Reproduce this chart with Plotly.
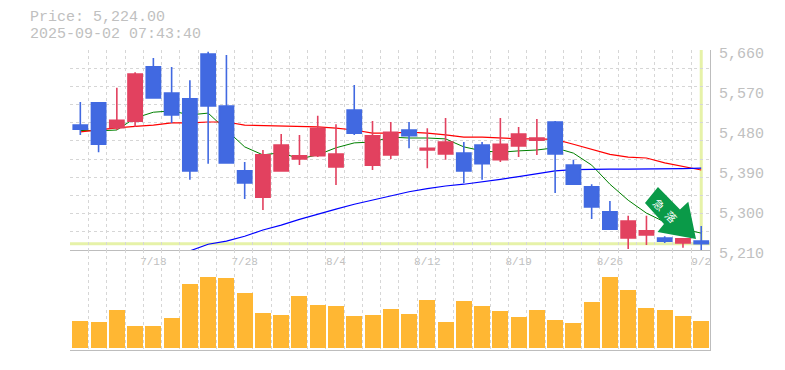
import numpy as np
import plotly.graph_objects as go
from plotly.subplots import make_subplots

dates = ["7/14","7/15","7/16","7/17","7/18","7/22","7/23","7/24","7/25","7/28","7/29","7/30","7/31","8/1","8/4",
         "8/5","8/6","8/7","8/8","8/12","8/13","8/14","8/15","8/18","8/19","8/20","8/21","8/22","8/25","8/26",
         "8/27","8/28","8/29","9/1","9/2"]
shown_dates = ["7/18","7/28","8/4","8/12","8/19","8/26","9/2"]
open_ = [5491,5541,5485,5500,5622,5563,5550,5651,5534,5388,5329,5388,5415,5422,5397,5525,5401,5424,5480,5435,5426,5428,5446,5413,5444,5457,5498,5401,5352,5296,5237,5244,5237,5226,5230]
close = [5482,5448,5502,5606,5552,5514,5388,5534,5406,5361,5424,5446,5422,5484,5426,5473,5467,5475,5467,5439,5453,5388,5404,5448,5471,5462,5426,5358,5307,5257,5275,5253,5230,5235,5224]
high = [5543,5543,5575,5610,5642,5622,5592,5656,5649,5408,5435,5471,5469,5512,5493,5581,5500,5498,5498,5484,5507,5453,5453,5507,5487,5505,5500,5413,5358,5320,5287,5287,5241,5235,5264]
low = [5469,5430,5480,5487,5552,5496,5368,5404,5406,5325,5300,5388,5401,5419,5356,5469,5390,5415,5439,5394,5413,5361,5368,5408,5419,5424,5338,5358,5280,5255,5212,5221,5226,5215,5210]
ma_short = [5479,5478,5480,5507,5520,5523,5514,5518,5480,5442,5424,5429,5415,5424,5440,5451,5453,5464,5462,5462,5460,5442,5433,5430,5433,5435,5440,5428,5401,5358,5322,5293,5273,5257,5248]
ma_mid = [5476,5481,5485,5488,5491,5496,5496,5498,5498,5491,5490,5488,5487,5487,5484,5480,5473,5473,5475,5473,5469,5464,5464,5462,5460,5460,5459,5448,5437,5425,5419,5417,5406,5398,5390]
ma_long = [None,None,None,None,None,None,5208,5223,5230,5241,5255,5266,5279,5291,5302,5313,5322,5332,5341,5348,5354,5358,5363,5369,5375,5382,5388,5391,5392,5392,5392,5392,5393,5393,5394]
volume = [27,26,38,22,22,30,64,71,70,55,35,33,52,43,42,32,33,39,34,48,26,47,42,37,31,38,28,25,46,71,58,40,38,32,27]
price_ticks = [5660,5570,5480,5390,5300,5210]
last_price = 5224
header = ["Price: 5,224.00","2025-09-02 07:43:40"]
badge = "急落"

W,H = 785,370
idx = list(range(len(dates)))
xr = [-0.565,34.48]
RED,BLUE = "#e2415f","#4169e1"
GRID = "#d6d6d6"; BORDER="#bdbdbd"; TXT="#c0c0c0"; LIME="#e6f2a8"
MONO="Liberation Mono"

fig = make_subplots(rows=2,cols=1,shared_xaxes=False,vertical_spacing=0,row_heights=[2,1])
for name,vals,c,w in [("short",ma_short,"#008000",1),("mid",ma_mid,"#ff0000",1.2),("long",ma_long,"#0000ff",1.2)]:
    fig.add_trace(go.Scatter(x=idx,y=vals,mode="lines",name=name,line=dict(color=c,width=w)),row=1,col=1)
fig.add_trace(go.Candlestick(x=idx,open=open_,high=high,low=low,close=close,yaxis="y3",xaxis="x",
    whiskerwidth=0,
    increasing=dict(line=dict(color=RED,width=1.6),fillcolor=RED),
    decreasing=dict(line=dict(color=BLUE,width=1.6),fillcolor=BLUE)))
fig.add_trace(go.Bar(x=idx,y=volume,marker=dict(color="#ffb733",line_width=0),width=16/18.23),row=2,col=1)

tick_idx=[dates.index(d) for d in shown_dates]
gridx=dict(showgrid=True,griddash="3px,3px",gridcolor=GRID,gridwidth=1,tick0=-0.55,dtick=1)
fig.update_layout(width=W,height=H,autosize=False,margin=dict(l=70,r=75,t=50,b=20,autoexpand=False),
    paper_bgcolor="white",plot_bgcolor="white",showlegend=False,bargap=0,boxgap=0.22,boxgroupgap=0,
    xaxis=dict(domain=[0,1],range=xr,tickmode="array",tickvals=tick_idx,ticktext=shown_dates,showgrid=False,automargin=False,
        ticks="",ticklabelstandoff=1,tickfont=dict(family=MONO,size=11,color=TXT),showline=True,linecolor=BORDER,linewidth=1,
        minor=gridx,rangeslider=dict(visible=False),zeroline=False),
    xaxis2=dict(domain=[0,1],range=xr,showticklabels=False,ticks="",showgrid=False,minor=gridx,showline=True,linecolor=BORDER,linewidth=1,zeroline=False,automargin=False),
    yaxis=dict(domain=[1/3,1],range=[5210,5660],side="right",tickmode="array",tickvals=price_ticks,automargin=False,
        ticktext=[f"{v:,}" for v in price_ticks],ticks="",ticklabelstandoff=5,ticklabelshift=3,
        tickfont=dict(family=MONO,size=15,color=TXT),showgrid=False,zeroline=False,showline=True,linecolor=BORDER,linewidth=1,
        minor=dict(showgrid=True,griddash="3px,3px",gridcolor=GRID,gridwidth=1,tick0=5210,dtick=450/11)),
    yaxis2=dict(domain=[0,1/3],range=[-2,98],showticklabels=False,ticks="",showgrid=False,zeroline=False,showline=True,linecolor=BORDER,linewidth=1,side="right",automargin=False),
    yaxis3=dict(overlaying="y",range=[5210,5660],visible=False,side="right",anchor="x",automargin=False),
)
# current-price guides
fig.add_shape(type="line",xref="paper",yref="y",x0=0,x1=1,y0=last_price,y1=last_price,line=dict(color=LIME,width=3),layer="below")
fig.add_shape(type="line",xref="x",yref="y",x0=idx[-1],x1=idx[-1],y0=last_price,y1=5660,line=dict(color=LIME,width=3),layer="below")

px=lambda x:(x-70)/640
py=lambda y:(350-y)/300
arrow=[(658,187),(645,203),(664,224),(657.5,232),(696,239),(688.3,201.7),(680,209.5)]
path="M "+" L ".join(f"{px(a):.4f} {py(b):.4f}" for a,b in arrow)+" Z"
fig.add_shape(type="path",xref="paper",yref="paper",path=path,fillcolor="#0a9a48",line_width=0,layer="above")
for ch,(a,b) in zip(badge,[(659,204),(671,216)]):
    fig.add_annotation(xref="paper",yref="paper",x=px(a),y=py(b),xanchor="center",yanchor="middle",text=ch,showarrow=False,textangle=45,
        font=dict(family="Noto Sans CJK JP",size=11,color="white"))
for t,yy in zip(header,[18,34]):
    fig.add_annotation(xref="paper",yref="paper",x=px(28),y=py(yy),xanchor="left",yanchor="middle",text=t,showarrow=False,
        font=dict(family=MONO,size=15,color=TXT))
fig.write_html("out.html",config=dict(displayModeBar=False),
    post_script="document.body.style.margin='0';document.documentElement.style.overflow='hidden';")
